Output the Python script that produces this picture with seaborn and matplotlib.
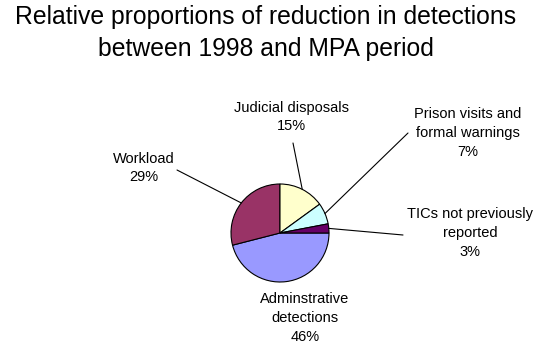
import numpy as np
import matplotlib
matplotlib.use("Agg")
import matplotlib.pyplot as plt
import seaborn as sns

# data
categories = ["Adminstrative\ndetections", "Workload", "Judicial disposals",
              "Prison visits and\nformal warnings", "TICs not previously\nreported"]
shares = [46, 29, 15, 7, 3]

# classic office palette
colors = ["#9999FF", "#993366", "#FFFFCC", "#CCFFFF", "#660066"]

sns.set_theme(style="white")
plt.rcParams["font.family"] = ["Liberation Sans", "DejaVu Sans"]

W, H = 559, 358
fig = plt.figure(figsize=(W / 100, H / 100), dpi=100)
ax = fig.add_axes([0, 0, 1, 1])

# pie laid out in pixel-like coordinates (y measured from bottom)
cx, cy, r = 280, H - 233, 49
wedges, _ = ax.pie(shares, colors=colors, startangle=0, counterclock=False,
                   center=(cx, cy), radius=r,
                   wedgeprops=dict(edgecolor="black", linewidth=0.8))
ax.set_xlim(0, W)
ax.set_ylim(0, H)
ax.set_aspect("equal")
ax.axis("off")

# label block centres and leader-line ends (image coords, y from top)
label_xy = [(305, 318), (144, 168), (291, 117), (468, 133), (470, 233)]
leader_end = [None, (177, 170), (293, 143), (408, 133), (403, 235)]

for w, cat, s, (lx, ly), end in zip(wedges, categories, shares, label_xy, leader_end):
    ax.text(lx, H - ly, f"{cat}\n{s}%", ha="center", va="center",
            fontsize=10.5, linespacing=1.45, color="black")
    if end is not None:
        mid = np.deg2rad((w.theta1 + w.theta2) / 2)
        ex, ey = cx + r * np.cos(mid), cy + r * np.sin(mid)
        ax.plot([ex, end[0]], [ey, H - end[1]], color="black", linewidth=0.8)

fig.text(266 / W, 1 - 33 / H,
         "Relative proportions of reduction in detections\nbetween 1998 and MPA period",
         ha="center", va="center", fontsize=17.8, linespacing=1.4, color="black")

fig.savefig("out.png", dpi=100)
